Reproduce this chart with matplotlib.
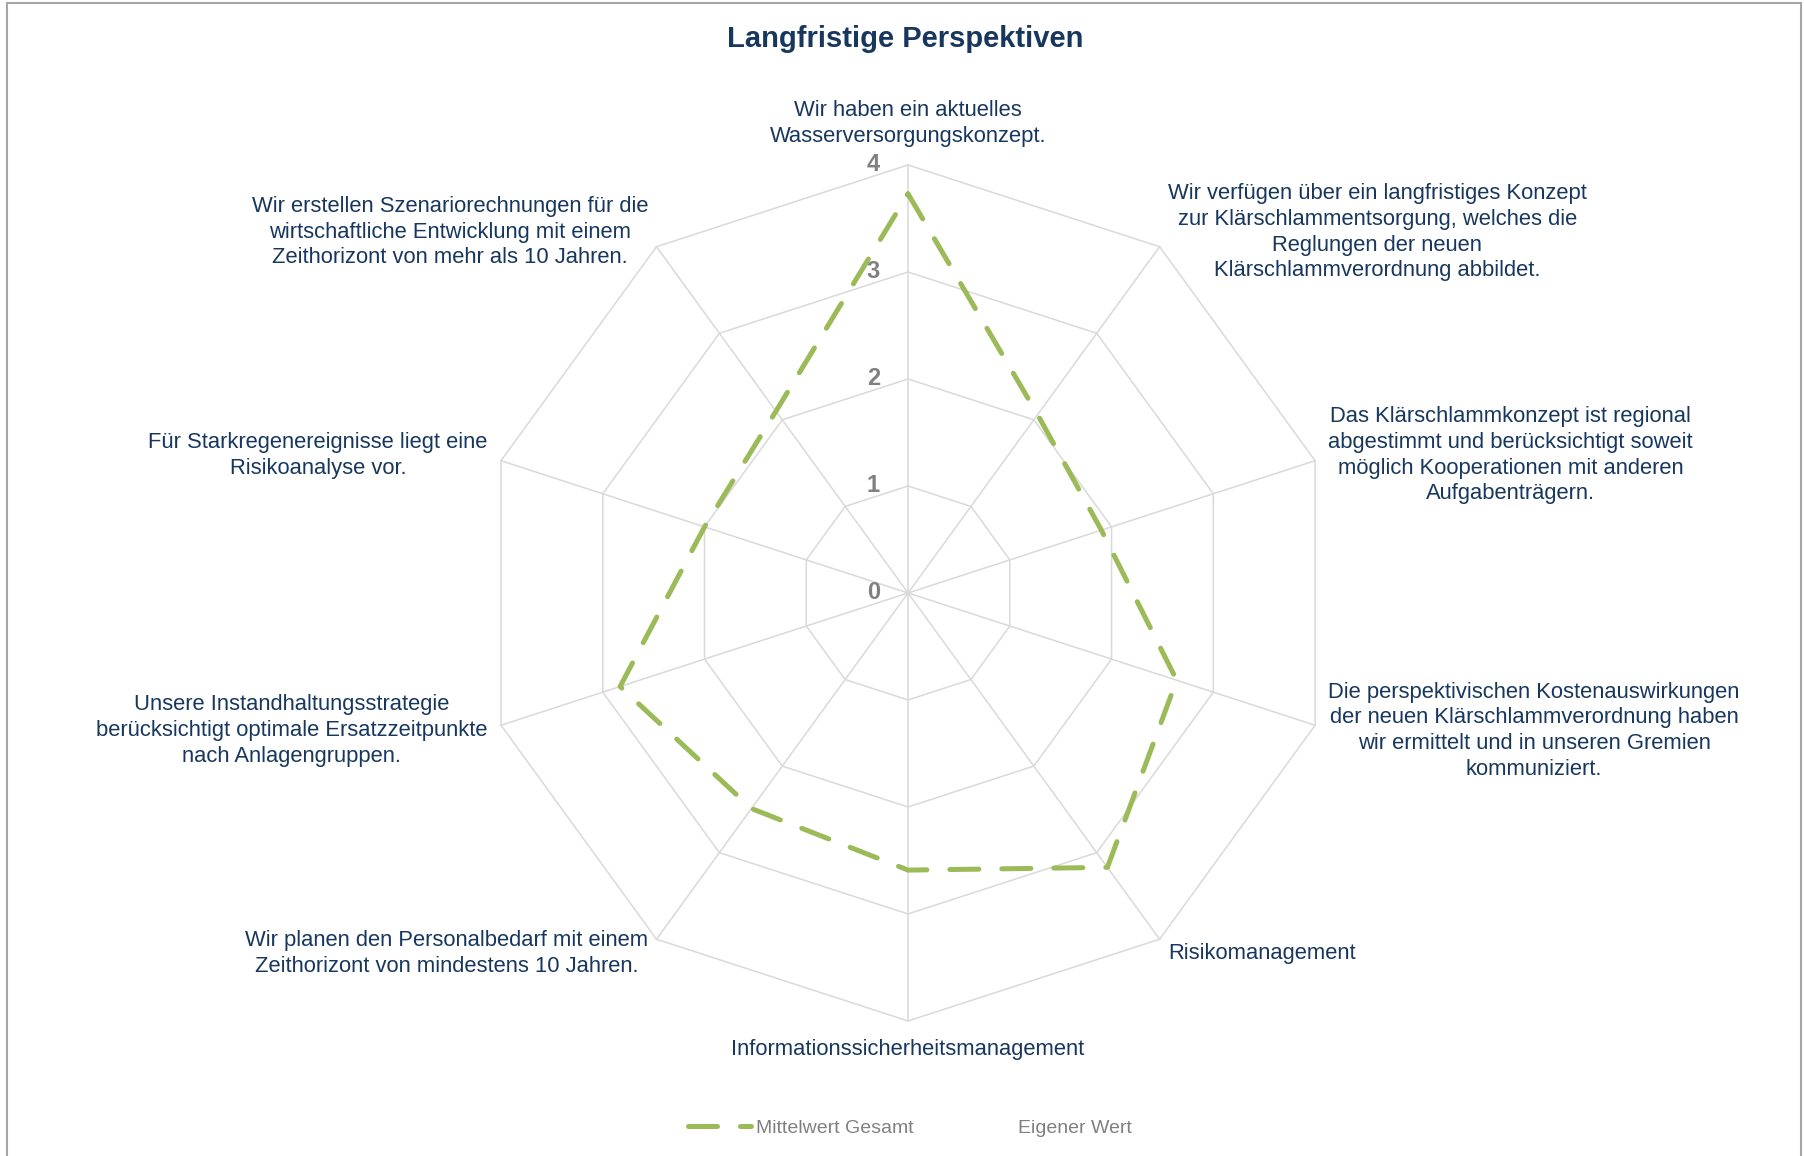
import numpy as np
import matplotlib
matplotlib.use('Agg')
import matplotlib.pyplot as plt
from matplotlib.lines import Line2D
from matplotlib.patches import Rectangle

plt.rcParams['font.family'] = ['Liberation Sans', 'DejaVu Sans']

# Radar categories, clockwise from top
categories = [
    'Wir haben ein aktuelles\nWasserversorgungskonzept.',
    'Wir verfügen über ein langfristiges Konzept\nzur Klärschlammentsorgung, welches die\n'
    'Reglungen der neuen\nKlärschlammverordnung abbildet.',
    'Das Klärschlammkonzept ist regional\nabgestimmt und berücksichtigt soweit\n'
    'möglich Kooperationen mit anderen\nAufgabenträgern.',
    'Die perspektivischen Kostenauswirkungen\nder neuen Klärschlammverordnung haben\n'
    'wir ermittelt und in unseren Gremien\nkommuniziert.',
    'Risikomanagement',
    'Informationssicherheitsmanagement',
    'Wir planen den Personalbedarf mit einem\nZeithorizont von mindestens 10 Jahren.',
    'Unsere Instandhaltungsstrategie\nberücksichtigt optimale Ersatzzeitpunkte\nnach Anlagengruppen.',
    'Für Starkregenereignisse liegt eine\nRisikoanalyse vor.',
    'Wir erstellen Szenariorechnungen für die\nwirtschaftliche Entwicklung mit einem\n'
    'Zeithorizont von mehr als 10 Jahren.',
]
mittelwert_gesamt = [3.73, 2.06, 1.9, 2.64, 3.17, 2.59, 2.49, 2.83, 2.0, 2.1]
ring_ticks = [0, 1, 2, 3, 4]
legend_labels = ['Mittelwert Gesamt', 'Eigener Wert']

NAVY = '#17375E'
GREEN = '#9BBB59'
GRID = '#D9D9D9'
GRAY = '#808080'

n = len(categories)
angles = np.linspace(0, 2 * np.pi, n, endpoint=False)
closed = np.append(angles, angles[0])

fig = plt.figure(figsize=(18.04, 11.56), dpi=100)
ax = fig.add_axes([0.2661, 0.1168, 0.4745, 0.7405], projection='polar')
ax.set_theta_offset(np.pi / 2)
ax.set_theta_direction(-1)
ax.set_ylim(0, ring_ticks[-1])
ax.grid(False)
ax.spines['polar'].set_visible(False)
ax.set_xticks([])
ax.set_yticks([])
ax.patch.set_alpha(0)

# polygon grid + spokes
for r in ring_ticks[1:]:
    ax.plot(closed, [r] * (n + 1), color=GRID, lw=1.1, clip_on=False, zorder=1)
for a in angles:
    ax.plot([a, a], [0, ring_ticks[-1]], color=GRID, lw=1.1, clip_on=False, zorder=1)

for t in ring_ticks:
    ax.annotate(str(t), xy=(0, t), xytext=(-28, 0), textcoords='offset pixels',
                ha='right', va='center', fontsize=17, fontweight='bold',
                color=GRAY, annotation_clip=False)

vals = mittelwert_gesamt + mittelwert_gesamt[:1]
ax.plot(closed, vals, color=GREEN, lw=3.6, dashes=(5.8, 4.6),
        dash_capstyle='round', clip_on=False, zorder=3)

# category labels around the outer ring
for a, lab in zip(angles, categories):
    s, c = np.sin(a), np.cos(a)
    if abs(s) < 0.1:
        ha = 'center'
        va = 'bottom' if c > 0 else 'top'
    else:
        ha = 'left' if s > 0 else 'right'
        va = 'center'
    ax.annotate(lab, xy=(a, ring_ticks[-1]), xytext=(14 * s, 18 * c),
                textcoords='offset pixels', ha=ha, va=va, multialignment='center',
                fontsize=15.8, color=NAVY, annotation_clip=False, linespacing=1.3)

fig.text(905 / 1804, 1 - 39 / 1156, 'Langfristige Perspektiven', ha='center',
         va='center', fontsize=21, fontweight='bold', color=NAVY)

handles = [Line2D([], [], color=GREEN, lw=3.6, dashes=(5.8, 4.6), dash_capstyle='round'),
           Line2D([], [], color='none')]
fig.legend(handles, legend_labels, loc='center', bbox_to_anchor=(0.5045, 0.024),
           ncol=2, frameon=False, fontsize=14, labelcolor=GRAY, handlelength=3.2,
           handletextpad=0.3, columnspacing=1.85)

fig.add_artist(Rectangle((7 / 1804, -0.01), (1801 - 7) / 1804, 1.0074,
                         transform=fig.transFigure, fill=False, ec='#A6A6A6', lw=1.5))

fig.savefig('out.png', dpi=100)
plt.close()
